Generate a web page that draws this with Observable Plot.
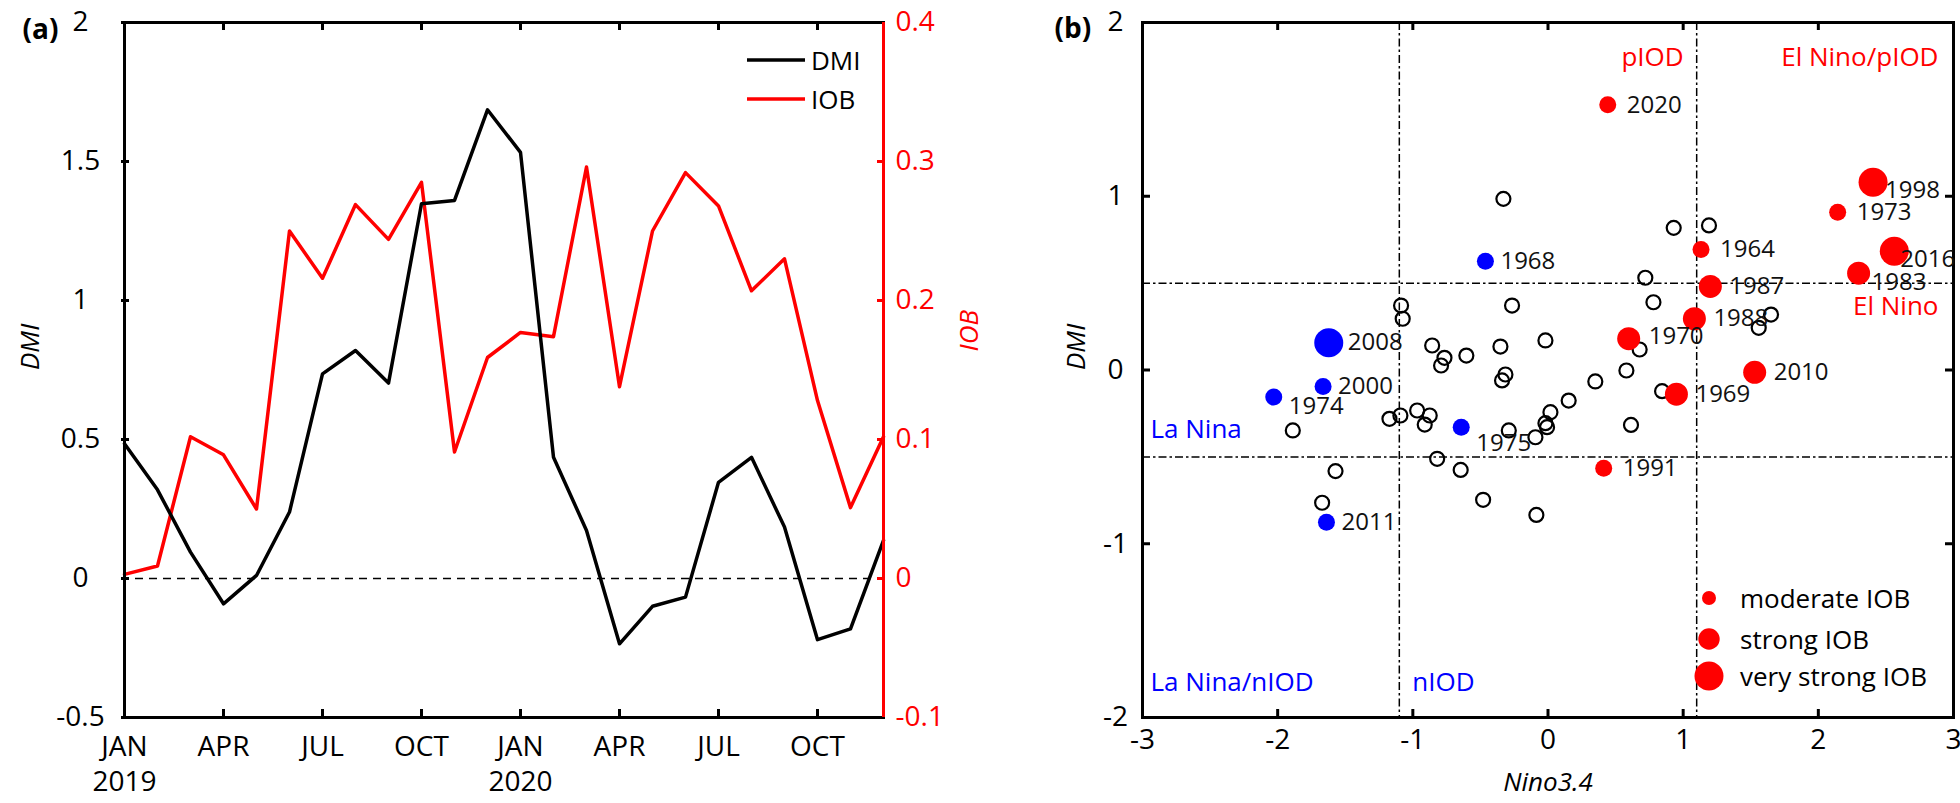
<!DOCTYPE html>
<html><head><meta charset="utf-8">
<script src="https://cdn.jsdelivr.net/npm/d3@7"></script>
<script src="https://cdn.jsdelivr.net/npm/@observablehq/plot@0.6"></script>
<style>
body{margin:0;background:#fff;font-family:'Open Sans',sans-serif}
#wrap{position:relative;width:1960px;height:803px;overflow:hidden;background:#fff}
.panel{position:absolute;top:0}
#overlay{position:absolute;left:0;top:0;pointer-events:none}
</style></head>
<body><div id="wrap"><div id="pa" class="panel" style="left:0"></div><div id="pb" class="panel" style="left:980px"></div></div>
<script>
// ---------- Panel (a) data ----------
const months = ["2019-01","2019-02","2019-03","2019-04","2019-05","2019-06","2019-07","2019-08","2019-09","2019-10","2019-11","2019-12",
                "2020-01","2020-02","2020-03","2020-04","2020-05","2020-06","2020-07","2020-08","2020-09","2020-10","2020-11","2020-12"];
const dmi = [0.485,0.319,0.095,-0.091,0.011,0.239,0.736,0.820,0.703,1.348,1.360,1.686,
             1.533,0.436,0.173,-0.235,-0.100,-0.067,0.346,0.436,0.185,-0.220,-0.181,0.137];
const iob = [0.003,0.009,0.102,0.089,0.050,0.250,0.216,0.269,0.244,0.285,0.091,0.159,
             0.177,0.174,0.296,0.138,0.250,0.292,0.268,0.207,0.230,0.128,0.051,0.102];
const xTicks = ["2019-01","2019-04","2019-07","2019-10","2020-01","2020-04","2020-07","2020-10"];
const xTickText = ["JAN\n2019","APR","JUL","OCT","JAN\n2020","APR","JUL","OCT"];
const dmiTicksA = [2,1.5,1,0.5,0,-0.5];
const dmiTickTextA = ["2","1.5","1","0.5","0","-0.5"];
const iobTicks = [0.4,0.3,0.2,0.1,0,-0.1];
const iobTickText = ["0.4","0.3","0.2","0.1","0","-0.1"];
const iobToDmi = 5; // right axis spans 0.5 while left spans 2.5

// ---------- Panel (b) data ----------
const evYears = [2020,1998,1973,2016,1983,1964,1987,1988,1970,2010,1969,1991,2008,2000,1974,1968,1975,2011];
const evNino = [0.442,2.405,2.143,2.562,2.298,1.132,1.201,1.083,0.597,1.529,0.950,0.412,-1.622,-1.664,-2.029,-0.463,-0.642,-1.639];
const evDmi = [1.526,1.081,0.908,0.684,0.557,0.694,0.481,0.295,0.180,-0.013,-0.139,-0.565,0.157,-0.095,-0.156,0.626,-0.329,-0.876];
const evStrength = ["moderate","very strong","moderate","very strong","strong","moderate","strong","strong","strong","strong","strong","moderate",
                    "very strong","moderate","moderate","moderate","moderate","moderate"];
const evPhase = ["El Nino","El Nino","El Nino","El Nino","El Nino","El Nino","El Nino","El Nino","El Nino","El Nino","El Nino","El Nino",
                 "La Nina","La Nina","La Nina","La Nina","La Nina","La Nina"];
const otherNino = [-1.087,-1.075,-0.857,-0.766,-0.791,-0.604,-0.266,-0.352,-0.315,-0.340,-0.019,0.153,0.018,-0.019,-0.007,-0.093,-0.290,
                   -1.173,-1.092,-0.968,-0.875,-0.912,-0.820,-0.646,-1.888,-1.572,-1.671,-0.480,-0.086,-0.330,0.930,1.191,0.720,0.780,
                   1.650,1.559,0.678,0.580,0.350,0.844,0.614];
const otherDmi = [0.371,0.295,0.141,0.070,0.026,0.083,0.371,0.135,-0.026,-0.060,0.170,-0.176,-0.243,-0.306,-0.329,-0.387,-0.348,
                  -0.281,-0.262,-0.233,-0.262,-0.314,-0.511,-0.575,-0.348,-0.582,-0.764,-0.747,-0.834,0.985,0.818,0.832,0.531,0.390,
                  0.319,0.243,0.118,-0.003,-0.066,-0.122,-0.316];
const strengthLevels = ["moderate","strong","very strong"];
const ninoThresholds = [-1.1, 1.1];
const dmiThresholds = [-0.5, 0.5];
const xTicksB = [-3,-2,-1,0,1,2,3];
const yTicksB = [-2,-1,0,1,2];

// ---------- styling ----------
const FONT = "'Open Sans', sans-serif";
const RED = "#ff0000", BLUE = "#0000ff";
const TICK_FS = 28, LABEL_FS = 26, YEAR_FS = 24;
const labelNudge = {1974:[15,9],1975:[15,16],1998:[12,8],2016:[6,8],1983:[13,9],1970:[20,-2],2000:[15,0],1968:[15,0],2011:[15,0],2008:[19,0]};

// ---------- Panel (a) ----------
const rowsA = months.map((m,i)=>({month:m, dmi:dmi[i], iob:iob[i]}));
const W = 980, H = 803;
const aL = 121, aR = 95, T = 22, B = 86;
const aInnerW = W - aL - aR, innerH = H - T - B;
const plotA = Plot.plot({
  width: W, height: H, marginLeft: aL, marginRight: aR, marginTop: T, marginBottom: B,
  style: {fontFamily: FONT, fontSize: TICK_FS + "px", background: "white", overflow: "visible"},
  x: {type: "point", domain: months, padding: 0, axis: null},
  y: {domain: [-0.5, 2], axis: null},
  marks: [
    Plot.ruleY([0], {strokeDasharray: "8,6", strokeWidth: 1.5, stroke: "black"}),
    Plot.line(rowsA, {x: "month", y: d => d.iob * iobToDmi, stroke: RED, strokeWidth: 3.5}),
    Plot.line(rowsA, {x: "month", y: "dmi", stroke: "black", strokeWidth: 3.5}),
    // frame
    Plot.ruleY([dmiTicksA[0], dmiTicksA[dmiTicksA.length-1]], {stroke: "black", strokeWidth: 3}),
    Plot.ruleX([months[0]], {stroke: "black", strokeWidth: 3}),
    Plot.ruleX([months[months.length-1]], {stroke: RED, strokeWidth: 3}),
    // inward ticks
    Plot.tickX(xTicks.slice(1), {x: d => d, insetTop: innerH - 8, strokeWidth: 3}),
    Plot.tickX(xTicks.slice(1), {x: d => d, insetBottom: innerH - 8, strokeWidth: 3}),
    Plot.tickY(dmiTicksA.slice(1,-1), {y: d => d, insetRight: aInnerW - 8, strokeWidth: 3}),
    Plot.tickY(iobTicks.slice(1,-1), {y: d => d * iobToDmi, insetLeft: aInnerW - 8, strokeWidth: 3, stroke: RED}),
    // tick labels
    Plot.text(dmiTicksA, {y: d => d, frameAnchor: "left", dx: -41, textAnchor: "middle", text: (d,i) => dmiTickTextA[i], fontSize: TICK_FS}),
    Plot.text(iobTicks, {y: d => d * iobToDmi, frameAnchor: "right", dx: 10, textAnchor: "start", text: (d,i) => iobTickText[i], fill: RED, fontSize: TICK_FS}),
    Plot.text(xTicks, {x: d => d, frameAnchor: "bottom", dy: 13, lineAnchor: "top", lineHeight: 1.27, text: (d,i) => xTickText[i], fontSize: TICK_FS}),
    // axis titles
    Plot.text(["DMI"], {frameAnchor: "left", dx: -91, rotate: -90, fontStyle: "italic", fontSize: LABEL_FS}),
    Plot.text(["IOB"], {frameAnchor: "right", dx: 84, dy: -60, rotate: -90, fontStyle: "italic", fill: RED, fontSize: LABEL_FS}),
    Plot.text(["(a)"], {frameAnchor: "top-left", dx: -99, dy: -3, fontWeight: "bold", fontSize: 28})
  ]
});
document.getElementById("pa").appendChild(plotA);

// ---------- Panel (b) ----------
const events = evYears.map((y,i)=>({year: y, nino: evNino[i], dmi: evDmi[i], level: strengthLevels.indexOf(evStrength[i]) + 1, phase: evPhase[i]}));
const others = otherNino.map((x,i)=>({nino: x, dmi: otherDmi[i]}));
const bL = 162, bR = 7;
const bInnerW = W - bL - bR;
const dashDot = "8,3,2.5,3";
const plotB = Plot.plot({
  width: W, height: H, marginLeft: bL, marginRight: bR, marginTop: T, marginBottom: B,
  style: {fontFamily: FONT, fontSize: TICK_FS + "px", background: "transparent", overflow: "visible"},
  x: {domain: [-3, 3], axis: null},
  y: {domain: [-2, 2], axis: null},
  r: {type: "linear", domain: [1, 3], range: [8.5, 14.5]},
  color: {domain: ["El Nino", "La Nina"], range: [RED, BLUE]},
  marks: [
    Plot.ruleX(ninoThresholds, {strokeDasharray: dashDot, strokeWidth: 1.5, stroke: "black"}),
    Plot.ruleY(dmiThresholds, {strokeDasharray: dashDot, strokeWidth: 1.5, stroke: "black"}),
    Plot.frame({stroke: "black", strokeWidth: 3}),
    Plot.tickX(xTicksB.slice(1,-1), {x: d => d, insetTop: innerH - 8, strokeWidth: 3}),
    Plot.tickX(xTicksB.slice(1,-1), {x: d => d, insetBottom: innerH - 8, strokeWidth: 3}),
    Plot.tickY(yTicksB.slice(1,-1), {y: d => d, insetRight: bInnerW - 8, strokeWidth: 3}),
    Plot.tickY(yTicksB.slice(1,-1), {y: d => d, insetLeft: bInnerW - 8, strokeWidth: 3}),
    Plot.text(xTicksB, {x: d => d, frameAnchor: "bottom", dy: 31, text: d => String(d), fontSize: TICK_FS}),
    Plot.text(yTicksB, {y: d => d, frameAnchor: "left", dx: -27, textAnchor: "middle", text: d => String(d), fontSize: TICK_FS}),
    Plot.dot(others, {x: "nino", y: "dmi", r: 7, stroke: "black", strokeWidth: 2.2, fill: "none"}),
    Plot.dot(events, {x: "nino", y: "dmi", r: "level", fill: "phase", stroke: "none"}),
    ...events.map(e => {
      const n = labelNudge[e.year] || [19, 0];
      return Plot.text([e], {x: "nino", y: "dmi", text: d => String(d.year), textAnchor: "start", dx: n[0], dy: n[1], fontSize: YEAR_FS, fill: "#111"});
    }),
    // region annotations
    Plot.text(["pIOD"], {x: ninoThresholds[1], frameAnchor: "top", dx: -13, dy: 25, textAnchor: "end", fill: RED, fontSize: LABEL_FS}),
    Plot.text(["El Nino/pIOD"], {frameAnchor: "top-right", dx: -15, dy: 25, textAnchor: "end", fill: RED, fontSize: LABEL_FS}),
    Plot.text(["El Nino"], {y: dmiThresholds[1], frameAnchor: "right", dx: -15, dy: 24, textAnchor: "end", fill: RED, fontSize: LABEL_FS}),
    Plot.text(["La Nina"], {y: dmiThresholds[0], frameAnchor: "left", dx: 8, dy: -27, textAnchor: "start", fill: BLUE, fontSize: LABEL_FS}),
    Plot.text(["La Nina/nIOD"], {frameAnchor: "bottom-left", dx: 8, dy: -27, textAnchor: "start", fill: BLUE, fontSize: LABEL_FS}),
    Plot.text(["nIOD"], {x: ninoThresholds[0], frameAnchor: "bottom", dx: 13, dy: -27, textAnchor: "start", fill: BLUE, fontSize: LABEL_FS}),
    // axis titles
    Plot.text(["Nino3.4"], {frameAnchor: "bottom", dy: 73, fontStyle: "italic", fontSize: LABEL_FS}),
    Plot.text(["DMI"], {frameAnchor: "left", dx: -66, rotate: -90, fontStyle: "italic", fontSize: LABEL_FS}),
    Plot.text(["(b)"], {frameAnchor: "top-left", dx: -88, dy: -4, fontWeight: "bold", fontSize: 28})
  ]
});
document.getElementById("pb").appendChild(plotB);

// ---------- legends (overlay) ----------
const svg = d3.select("#wrap").append("svg").attr("id","overlay").attr("width",1960).attr("height",803)
  .style("font-family", FONT).style("font-size", LABEL_FS + "px");
const legA = [{name:"DMI", color:"black"}, {name:"IOB", color:RED}];
legA.forEach((d,i)=>{
  const y = 60 + i*39;
  svg.append("line").attr("x1",747).attr("x2",805).attr("y1",y).attr("y2",y).attr("stroke",d.color).attr("stroke-width",3.5);
  svg.append("text").attr("x",811).attr("y",y).attr("dominant-baseline","central").text(d.name);
});
const legB = [{name:"moderate IOB", r:7}, {name:"strong IOB", r:10.7}, {name:"very strong IOB", r:14.5}];
const legBY = [598, 639, 676];
legB.forEach((d,i)=>{
  svg.append("circle").attr("cx",1709).attr("cy",legBY[i]).attr("r",d.r).attr("fill",RED);
  svg.append("text").attr("x",1740).attr("y",legBY[i]).attr("dominant-baseline","central").text(d.name);
});
</script>
</body></html>
